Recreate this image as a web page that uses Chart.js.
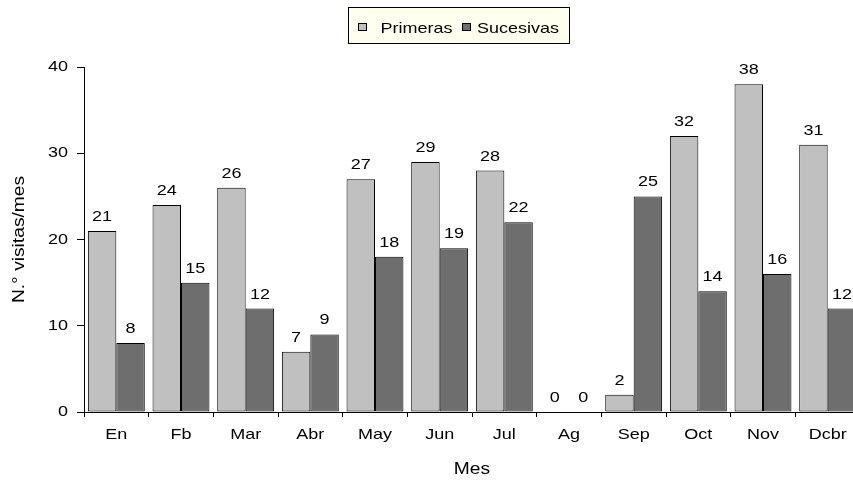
<!DOCTYPE html>
<html lang="es">
<head>
    <meta charset="UTF-8">
    <title>Visitas por mes</title>
    <style>
        body { margin: 0; overflow: hidden; background: #fff; }
        canvas { display: block; }
    </style>
</head>
<body>
<canvas id="myChart" width="870" height="481"></canvas>

<script src="https://cdn.jsdelivr.net/npm/chart.js"></script>
<script>
// data
const meses = ['En', 'Fb', 'Mar', 'Abr', 'May', 'Jun', 'Jul', 'Ag', 'Sep', 'Oct', 'Nov', 'Dcbr'];
const primeras = [21, 24, 26, 7, 27, 29, 28, 0, 2, 32, 38, 31];
const sucesivas = [8, 15, 12, 9, 18, 19, 22, 0, 25, 14, 16, 12];
const serieNombres = ['Primeras', 'Sucesivas'];
const yTicks = [0, 10, 20, 30, 40];

const FONT = 'Liberation Sans, Arial, sans-serif';
const STRETCH = 1.2; // the original text is drawn wider than normal

// widen every glyph horizontally, measuring included
const wideText = {
    id: 'wideText',
    beforeInit(chart) {
        const c = chart.ctx;
        const fill = c.fillText.bind(c);
        const measure = c.measureText.bind(c);
        c.fillText = function (text, x, y) {
            c.save();
            c.translate(x, y);
            c.scale(STRETCH, 1);
            fill(text, 0, 0);
            c.restore();
        };
        c.measureText = function (text) {
            const m = measure(text);
            return {
                width: m.width * STRETCH,
                actualBoundingBoxAscent: m.actualBoundingBoxAscent,
                actualBoundingBoxDescent: m.actualBoundingBoxDescent,
                actualBoundingBoxLeft: m.actualBoundingBoxLeft * STRETCH,
                actualBoundingBoxRight: m.actualBoundingBoxRight * STRETCH
            };
        };
    }
};

// numbers above each bar
const valueLabels = {
    id: 'valueLabels',
    afterDatasetsDraw(chart) {
        const c = chart.ctx;
        c.save();
        c.font = '15px ' + FONT;
        c.fillStyle = '#000';
        c.textAlign = 'center';
        c.textBaseline = 'alphabetic';
        chart.data.datasets.forEach((ds, i) => {
            chart.getDatasetMeta(i).data.forEach((bar, j) => {
                c.fillText(String(ds.data[j]), bar.x, bar.y - 10);
            });
        });
        c.restore();
    }
};

// boxed legend like the original
const boxLegend = {
    id: 'boxLegend',
    afterDraw(chart) {
        const c = chart.ctx;
        c.save();
        c.fillStyle = '#fffff0';
        c.fillRect(348.5, 7.5, 221, 36);
        c.strokeStyle = '#000';
        c.lineWidth = 1;
        c.strokeRect(348.5, 7.5, 221, 36);
        const pos = [[358.5, 380.5], [462.5, 477]];
        c.font = '15px ' + FONT;
        c.textBaseline = 'alphabetic';
        chart.data.datasets.forEach((ds, i) => {
            c.fillStyle = ds.backgroundColor;
            c.fillRect(pos[i][0], 23.5, 8, 7);
            c.strokeRect(pos[i][0], 23.5, 8, 7);
            c.fillStyle = '#000';
            c.fillText(ds.label, pos[i][1], 33);
        });
        c.restore();
    }
};

const ctx = document.getElementById('myChart').getContext('2d');
const myChart = new Chart(ctx, {
    type: 'bar',
    data: {
        labels: meses,
        datasets: [{
            label: serieNombres[0],
            data: primeras,
            backgroundColor: '#c0c0c0',
            borderColor: '#000',
            borderWidth: 1,
            borderSkipped: false
        }, {
            label: serieNombres[1],
            data: sucesivas,
            backgroundColor: '#6e6e6e',
            borderColor: '#000',
            borderWidth: 1,
            borderSkipped: false
        }]
    },
    options: {
        responsive: false,
        animation: false,
        datasets: {
            bar: { categoryPercentage: 0.88, barPercentage: 1.0 }
        },
        layout: { padding: { top: 67, right: 10, left: 0, bottom: 0 } },
        plugins: {
            legend: { display: false },
            tooltip: { enabled: false }
        },
        scales: {
            x: {
                grid: { drawOnChartArea: false, color: '#000', tickLength: 5, offset: true },
                border: { color: '#000', width: 1 },
                ticks: { color: '#000', font: { family: FONT, size: 15 }, padding: 9, maxRotation: 0 },
                title: {
                    display: true, text: 'Mes', color: '#000',
                    font: { family: FONT, size: 16 }, padding: { top: 0, bottom: 2 }
                },
                afterFit(scale) { scale.height = 69; }
            },
            y: {
                min: 0,
                max: 40,
                afterBuildTicks(scale) { scale.ticks = yTicks.map(v => ({ value: v })); },
                grid: { drawOnChartArea: false, color: '#000', tickLength: 7 },
                border: { color: '#000', width: 1 },
                ticks: { color: '#000', font: { family: FONT, size: 15 }, padding: 9 },
                title: {
                    display: true, text: 'N.° visitas/mes', color: '#000',
                    font: { family: FONT, size: 16 }, padding: { top: 10, bottom: 0 }
                },
                afterFit(scale) { scale.width = 84; }
            }
        }
    },
    plugins: [wideText, valueLabels, boxLegend]
});
</script>
</body>
</html>
